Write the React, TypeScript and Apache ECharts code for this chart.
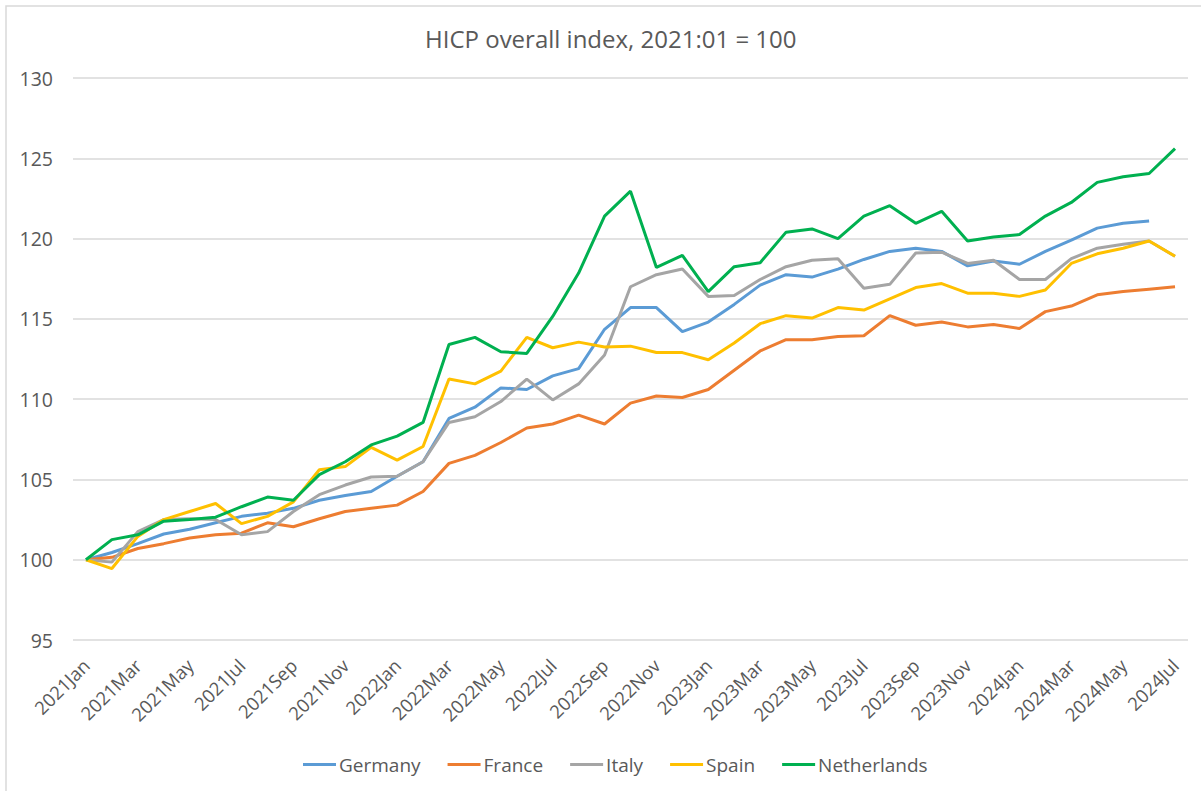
import React, { useEffect, useRef } from "react";
import * as echarts from "echarts";

const months = ["Jan", "Feb", "Mar", "Apr", "May", "Jun", "Jul", "Aug", "Sep", "Oct", "Nov", "Dec"];
const categories: string[] = [];
for (let y = 2021; y <= 2024; y++) {
  for (let m = 0; m < 12; m++) {
    if (y === 2024 && m > 6) break;
    categories.push(`${y}${months[m]}`);
  }
}

const germany = [100, 100.45, 101.0, 101.6, 101.9, 102.3, 102.7, 102.9, 103.2, 103.7, 104.0, 104.25, 105.2, 106.1, 108.8, 109.5, 110.7, 110.6, 111.45, 111.9, 114.35, 115.7, 115.7, 114.2, 114.8, 115.9, 117.1, 117.75, 117.6, 118.1, 118.7, 119.2, 119.4, 119.2, 118.3, 118.6, 118.4, 119.2, 119.9, 120.65, 120.95, 121.1, null];
const france = [100, 100.15, 100.7, 101.0, 101.35, 101.55, 101.65, 102.3, 102.05, 102.55, 103.0, 103.2, 103.4, 104.25, 106.0, 106.5, 107.3, 108.2, 108.45, 109.0, 108.45, 109.75, 110.2, 110.1, 110.6, 111.8, 113.0, 113.7, 113.7, 113.9, 113.95, 115.2, 114.6, 114.8, 114.5, 114.65, 114.4, 115.45, 115.8, 116.5, 116.7, 116.85, 117.0];
const italy = [100, 99.85, 101.75, 102.5, 102.55, 102.5, 101.55, 101.75, 103.0, 104.05, 104.65, 105.15, 105.2, 106.1, 108.55, 108.9, 109.85, 111.25, 109.95, 110.95, 112.75, 117.0, 117.75, 118.1, 116.4, 116.45, 117.45, 118.25, 118.65, 118.75, 116.9, 117.15, 119.1, 119.15, 118.45, 118.65, 117.45, 117.45, 118.75, 119.4, 119.65, 119.85, 118.9];
const spain = [100, 99.45, 101.45, 102.5, 103.0, 103.5, 102.25, 102.7, 103.6, 105.6, 105.8, 107.0, 106.2, 107.05, 111.25, 110.95, 111.75, 113.85, 113.2, 113.55, 113.25, 113.3, 112.9, 112.9, 112.45, 113.5, 114.7, 115.2, 115.05, 115.7, 115.55, 116.25, 116.95, 117.2, 116.6, 116.6, 116.4, 116.8, 118.45, 119.05, 119.4, 119.85, 118.9];
const netherlands = [100, 101.25, 101.55, 102.4, 102.5, 102.65, 103.3, 103.9, 103.7, 105.3, 106.1, 107.15, 107.7, 108.55, 113.4, 113.85, 112.95, 112.85, 115.15, 117.85, 121.4, 122.95, 118.2, 118.95, 116.7, 118.25, 118.5, 120.4, 120.6, 120.0, 121.4, 122.05, 120.95, 121.7, 119.85, 120.1, 120.25, 121.4, 122.25, 123.5, 123.85, 124.05, 125.6];

const seriesNames = ["Germany", "France", "Italy", "Spain", "Netherlands"];
const seriesData = [germany, france, italy, spain, netherlands];
const colors = ["#5B9BD5", "#ED7D31", "#A5A5A5", "#FFC000", "#00B050"];

const yTicks = { min: 95, max: 130, interval: 5 };
const FONT = "'Open Sans', 'Noto Sans', sans-serif";

export default function App() {
  const ref = useRef<HTMLDivElement>(null);
  useEffect(() => {
    if (!ref.current) return;
    const chart = echarts.init(ref.current, undefined, { renderer: "svg" });
    chart.setOption({
      animation: false,
      backgroundColor: "#ffffff",
      color: colors,
      title: {
        text: "HICP overall index, 2021:01 = 100",
        left: 420,
        top: 21,
        textStyle: { color: "#595959", fontSize: 24, fontWeight: "normal", fontFamily: FONT },
      },
      graphic: [
        {
          type: "rect",
          shape: { x: 6, y: 6, width: 1400, height: 1000 },
          style: { fill: "none", stroke: "#D9D9D9", lineWidth: 1.5 },
          silent: true,
        },
      ],
      legend: {
        bottom: 12,
        left: 298,
        itemWidth: 33,
        itemHeight: 3,
        itemGap: 27,
        icon: "rect",
        textStyle: { color: "#595959", fontSize: 19, fontFamily: FONT, padding: [0, 0, 0, -2] },
        data: seriesNames,
      },
      grid: { left: 73, right: 13, top: 78, bottom: 151 },
      xAxis: {
        type: "category",
        data: categories,
        boundaryGap: true,
        axisLine: { show: false },
        axisTick: { show: false },
        axisLabel: {
          interval: 1,
          rotate: 45,
          color: "#595959",
          fontSize: 18.5,
          fontFamily: FONT,
          margin: 22,
        },
      },
      yAxis: {
        type: "value",
        min: yTicks.min,
        max: yTicks.max,
        interval: yTicks.interval,
        axisLine: { show: false },
        axisTick: { show: false },
        axisLabel: { color: "#595959", fontSize: 19.5, fontFamily: FONT, margin: 20 },
        splitLine: { lineStyle: { color: "#D9D9D9", width: 1.5 } },
      },
      series: seriesNames.map((name, i) => ({
        name,
        type: "line",
        data: seriesData[i],
        symbol: "none",
        lineStyle: { width: 3, color: colors[i] },
        itemStyle: { color: colors[i] },
        connectNulls: false,
      })),
    });
    return () => chart.dispose();
  }, []);
  return <div ref={ref} style={{ width: 1201, height: 791, position: "absolute", left: 0, top: 0 }} />;
}
